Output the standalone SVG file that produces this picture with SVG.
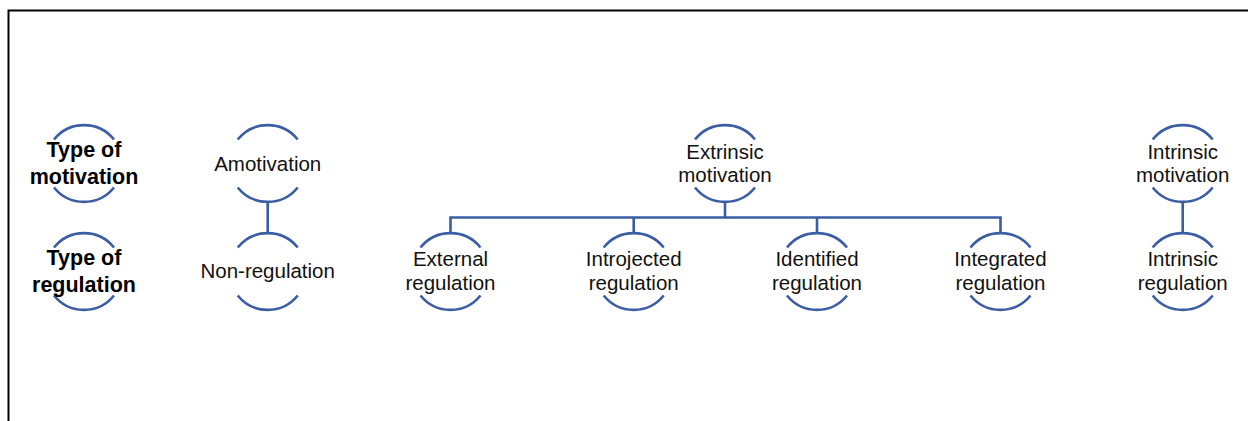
<svg xmlns="http://www.w3.org/2000/svg" width="1248" height="421" viewBox="0 0 1248 421">
<defs>
<style>
.arc{fill:none;stroke:#3A5DA3;stroke-width:2.6;}
.con{fill:none;stroke:#3A5DA3;stroke-width:2.6;}
.t{font-family:"Liberation Sans",Arial,sans-serif;font-size:20.5px;fill:#111;text-anchor:middle;}
.b{font-family:"Liberation Sans",Arial,sans-serif;font-size:21.5px;font-weight:bold;fill:#000;text-anchor:middle;}
</style>
<path id="ring" class="arc" d="M -30 -24 A 38.5 38.5 0 0 1 30 -24 M -30 24 A 38.5 38.5 0 0 0 30 24"/>
</defs>
<rect width="1248" height="421" fill="#fff"/>
<path d="M 8.5 440 L 8.5 10.5 L 1260 10.5" fill="none" stroke="#000" stroke-width="2"/>
<g id="connectors">
<line class="con" x1="267.7" y1="202" x2="267.7" y2="233"/>
<line class="con" x1="1182.7" y1="202" x2="1182.7" y2="233"/>
<line class="con" x1="725" y1="202" x2="725" y2="217.5"/>
<path class="con" d="M 450.5 233 L 450.5 217.5 L 1000.5 217.5 L 1000.5 233"/>
<line class="con" x1="633.7" y1="217.5" x2="633.7" y2="233"/>
<line class="con" x1="817" y1="217.5" x2="817" y2="233"/>
</g>
<g id="label-motivation">
<use href="#ring" x="84" y="163.5"/>
<text class="b" x="84" y="157">Type of</text>
<text class="b" x="84" y="184">motivation</text>
</g>
<g id="label-regulation">
<use href="#ring" x="84" y="271.5"/>
<text class="b" x="84" y="264.5">Type of</text>
<text class="b" x="84" y="291.5">regulation</text>
</g>
<g id="amotivation">
<use href="#ring" x="267.7" y="163.5"/>
<text class="t" x="267.7" y="171">Amotivation</text>
</g>
<g id="non-regulation">
<use href="#ring" x="267.7" y="271.5"/>
<text class="t" x="267.7" y="278">Non-regulation</text>
</g>
<g id="extrinsic">
<use href="#ring" x="725" y="163.5"/>
<text class="t" x="725" y="159">Extrinsic</text>
<text class="t" x="725" y="182">motivation</text>
</g>
<g id="external">
<use href="#ring" x="450.5" y="271.5"/>
<text class="t" x="450.5" y="266">External</text>
<text class="t" x="450.5" y="290">regulation</text>
</g>
<g id="introjected">
<use href="#ring" x="633.7" y="271.5"/>
<text class="t" x="633.7" y="266">Introjected</text>
<text class="t" x="633.7" y="290">regulation</text>
</g>
<g id="identified">
<use href="#ring" x="817" y="271.5"/>
<text class="t" x="817" y="266">Identified</text>
<text class="t" x="817" y="290">regulation</text>
</g>
<g id="integrated">
<use href="#ring" x="1000.5" y="271.5"/>
<text class="t" x="1000.5" y="266">Integrated</text>
<text class="t" x="1000.5" y="290">regulation</text>
</g>
<g id="intrinsic">
<use href="#ring" x="1182.7" y="163.5"/>
<text class="t" x="1182.7" y="159">Intrinsic</text>
<text class="t" x="1182.7" y="182">motivation</text>
</g>
<g id="intrinsic-regulation">
<use href="#ring" x="1182.7" y="271.5"/>
<text class="t" x="1182.7" y="266">Intrinsic</text>
<text class="t" x="1182.7" y="290">regulation</text>
</g>
</svg>
